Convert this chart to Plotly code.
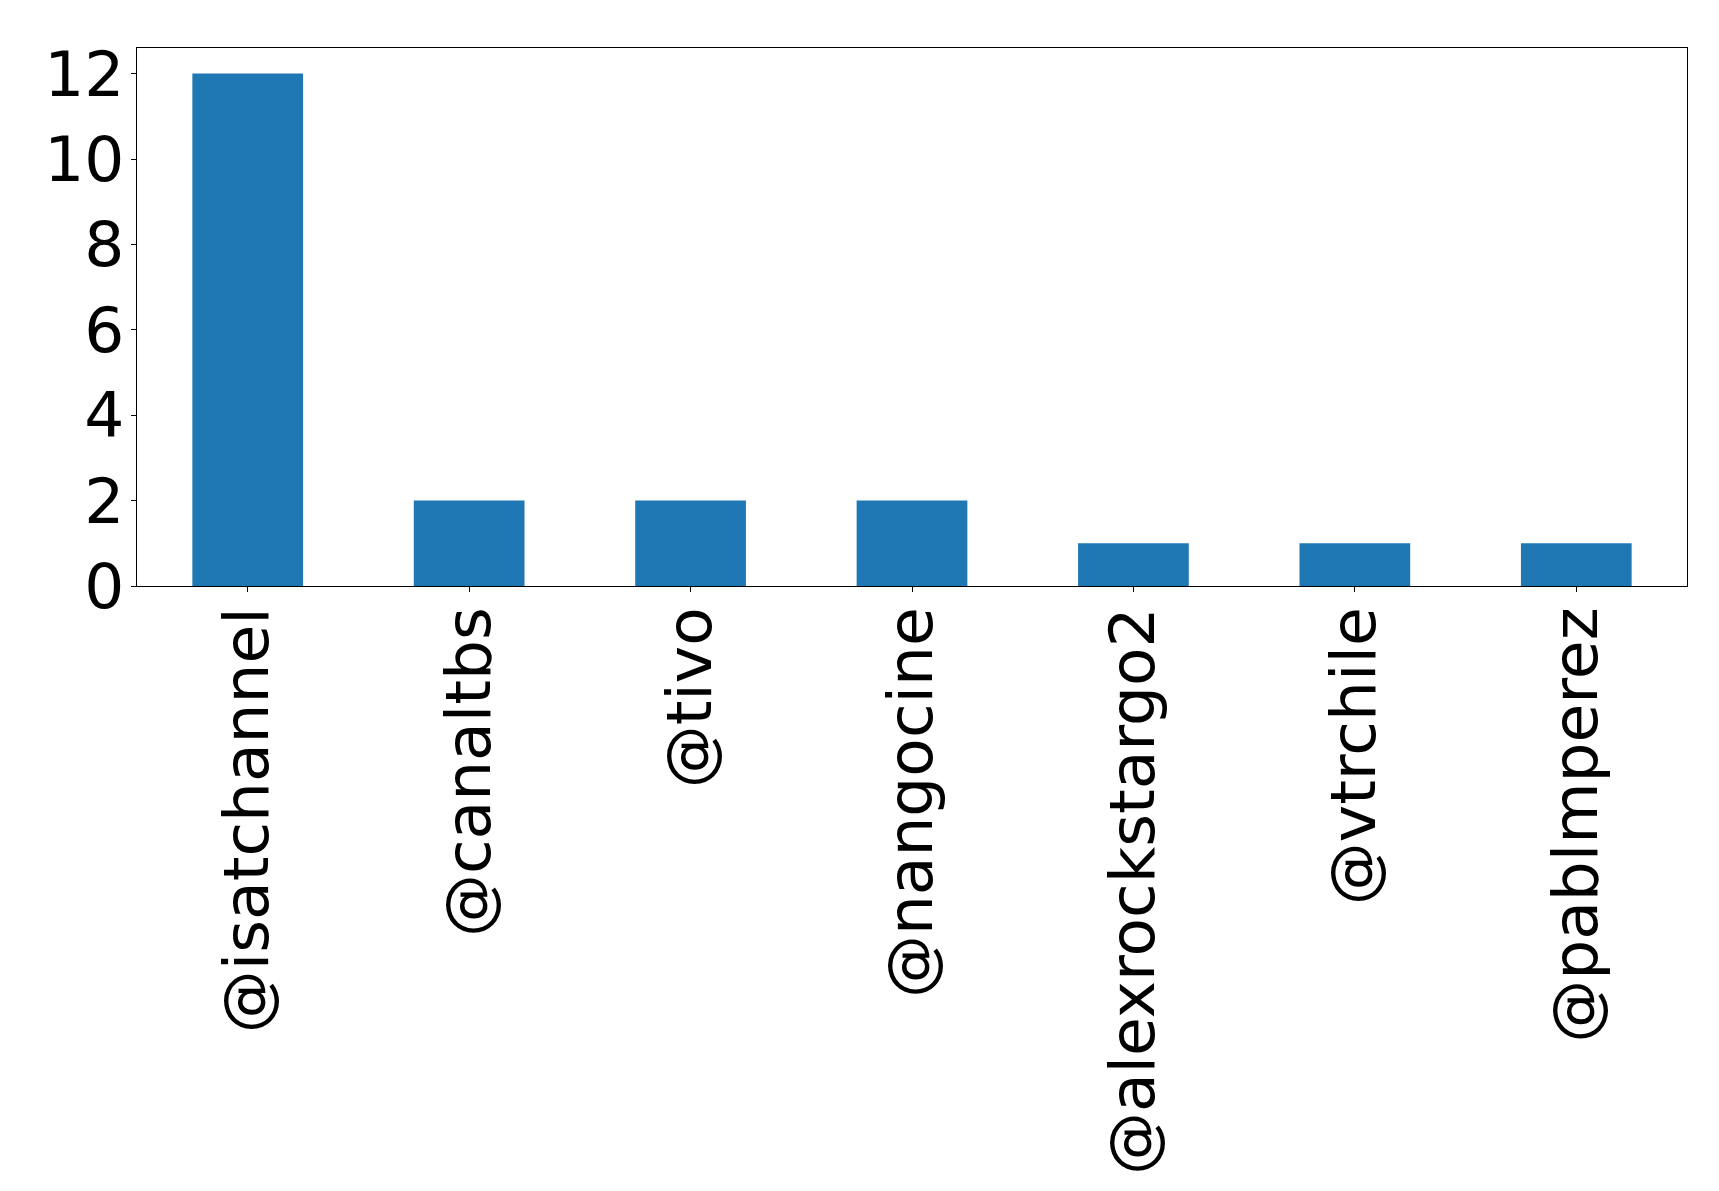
import plotly.graph_objects as go

users = ["@isatchannel", "@canaltbs", "@tivo", "@nangocine",
         "@alexrockstargo2", "@vtrchile", "@pablmperez"]
counts = [12, 2, 2, 2, 1, 1, 1]
y_ticks = [0, 2, 4, 6, 8, 10, 12]

fig = go.Figure(go.Bar(
    x=list(range(len(users))),
    y=counts,
    width=0.5,
    marker=dict(color="#1f77b4", line=dict(width=0)),
))

axis_style = dict(
    showline=True,
    linecolor="black",
    linewidth=1.2,
    mirror=True,
    ticks="outside",
    ticklen=5,
    tickcolor="black",
    showgrid=False,
    zeroline=False,
    automargin=False,
)

fig.update_layout(
    width=1719,
    height=1191,
    margin=dict(l=129, r=40, t=40, b=613),
    plot_bgcolor="white",
    paper_bgcolor="white",
    font=dict(family="DejaVu Sans", size=63, color="black"),
    showlegend=False,
    xaxis=dict(
        axis_style,
        range=[-0.5, len(users) - 0.5],
        tickmode="array",
        tickvals=list(range(len(users))),
        ticktext=users,
        tickangle=-90,
        ticklabelstandoff=-10,
    ),
    yaxis=dict(
        axis_style,
        range=[0, 12.6],
        tickmode="array",
        tickvals=y_ticks,
        ticklabelstandoff=-6,
    ),
)

fig.write_html("out.html")
